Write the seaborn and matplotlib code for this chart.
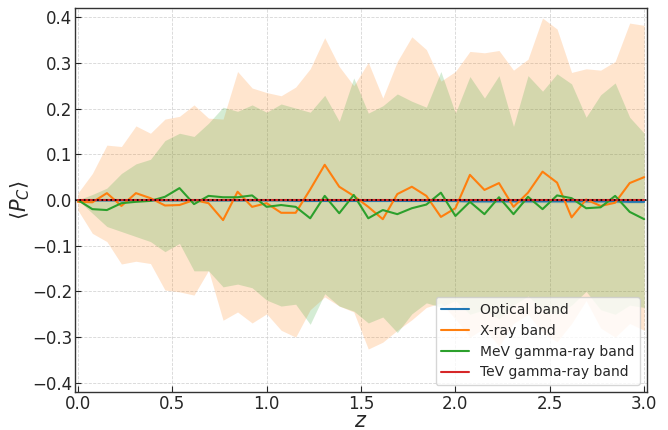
import numpy as np
import pandas as pd
import matplotlib
matplotlib.use("Agg")
import matplotlib.pyplot as plt
import seaborn as sns

# ---- data (40 redshift samples from 0 to 3) ----
z = np.linspace(0, 3, 40)

xray_mean = [-0.004, -0.005, 0.015, -0.013, 0.015, 0.004, -0.012, -0.011, 0.000, -0.007,
             -0.044, 0.018, -0.015, -0.007, -0.028, -0.028, 0.023, 0.077, 0.029, 0.009,
             -0.015, -0.042, 0.013, 0.029, 0.009, -0.037, -0.018, 0.055, 0.022, 0.037,
             -0.015, 0.016, 0.062, 0.038, -0.038, 0.001, -0.013, -0.006, 0.037, 0.050]
xray_upper = [0.015, 0.058, 0.120, 0.117, 0.162, 0.146, 0.177, 0.183, 0.208, 0.179,
              0.177, 0.281, 0.245, 0.235, 0.228, 0.247, 0.287, 0.355, 0.292, 0.250,
              0.301, 0.223, 0.303, 0.357, 0.329, 0.260, 0.281, 0.325, 0.322, 0.327,
              0.284, 0.308, 0.398, 0.374, 0.279, 0.287, 0.284, 0.303, 0.387, 0.382]
xray_lower = [-0.022, -0.073, -0.091, -0.140, -0.134, -0.139, -0.197, -0.201, -0.208, -0.154,
              -0.263, -0.245, -0.269, -0.249, -0.285, -0.300, -0.240, -0.212, -0.232, -0.245,
              -0.326, -0.311, -0.285, -0.262, -0.235, -0.225, -0.260, -0.300, -0.280, -0.320,
              -0.270, -0.250, -0.290, -0.310, -0.270, -0.220, -0.280, -0.300, -0.270, -0.285]

mev_mean = [0.000, -0.020, -0.022, -0.007, -0.004, -0.002, 0.007, 0.026, -0.009, 0.009,
            0.006, 0.006, 0.010, -0.015, -0.011, -0.015, -0.040, 0.009, -0.029, 0.011,
            -0.040, -0.022, -0.031, -0.018, -0.010, 0.016, -0.035, -0.004, -0.031, 0.006,
            -0.031, 0.007, -0.020, 0.010, 0.004, -0.018, -0.016, 0.009, -0.026, -0.042]
mev_upper = [0.000, 0.012, 0.026, 0.058, 0.079, 0.089, 0.130, 0.146, 0.139, 0.168,
             0.203, 0.194, 0.208, 0.192, 0.210, 0.201, 0.192, 0.229, 0.172, 0.267,
             0.190, 0.206, 0.232, 0.216, 0.203, 0.281, 0.190, 0.270, 0.223, 0.272,
             0.161, 0.272, 0.238, 0.276, 0.254, 0.181, 0.230, 0.256, 0.181, 0.146]
mev_lower = [0.000, -0.029, -0.058, -0.069, -0.080, -0.091, -0.113, -0.095, -0.155, -0.155,
             -0.190, -0.184, -0.192, -0.219, -0.232, -0.228, -0.272, -0.205, -0.232, -0.243,
             -0.269, -0.256, -0.290, -0.249, -0.225, -0.234, -0.220, -0.250, -0.240, -0.260,
             -0.230, -0.210, -0.240, -0.250, -0.230, -0.200, -0.240, -0.250, -0.230, -0.235]

optical_mean = [0.000, -0.001, -0.001, -0.001, -0.001, -0.001, -0.001, -0.001, -0.001, -0.001,
                -0.001, -0.001, -0.001, -0.001, -0.001, -0.002, -0.002, -0.002, -0.002, -0.002,
                -0.002, -0.002, -0.002, -0.002, -0.002, -0.002, -0.002, -0.003, -0.003, -0.003,
                -0.003, -0.003, -0.003, -0.003, -0.003, -0.003, -0.003, -0.003, -0.004, -0.004]
optical_spread = [0.000, 0.001, 0.001, 0.001, 0.001, 0.001, 0.001, 0.001, 0.002, 0.002,
                  0.002, 0.002, 0.002, 0.002, 0.002, 0.002, 0.002, 0.002, 0.002, 0.002,
                  0.002, 0.002, 0.002, 0.002, 0.002, 0.002, 0.003, 0.003, 0.003, 0.003,
                  0.003, 0.003, 0.003, 0.003, 0.003, 0.003, 0.003, 0.003, 0.003, 0.003]
tev_mean = [0.0] * 40
tev_spread = [0.0005] * 40

band_names = ["Optical band", "X-ray band", "MeV gamma-ray band", "TeV gamma-ray band"]
band_colors = ["#1f77b4", "#ff7f0e", "#2ca02c", "#d62728"]

x_ticks = [0.0, 0.5, 1.0, 1.5, 2.0, 2.5, 3.0]
y_ticks = [-0.4, -0.3, -0.2, -0.1, 0.0, 0.1, 0.2, 0.3, 0.4]

# ---- build long table ----
means = [optical_mean, xray_mean, mev_mean, tev_mean]
lowers = [np.array(optical_mean) - np.array(optical_spread), xray_lower, mev_lower,
          np.array(tev_mean) - np.array(tev_spread)]
uppers = [np.array(optical_mean) + np.array(optical_spread), xray_upper, mev_upper,
          np.array(tev_mean) + np.array(tev_spread)]

df = pd.concat([pd.DataFrame({"z": z, "P": m, "band": n}) for m, n in zip(means, band_names)],
               ignore_index=True)

sns.set_style("white")
plt.rcParams["font.family"] = ["DejaVu Sans"]

fig = plt.figure(figsize=(6.68, 4.30), dpi=100)
ax = fig.add_axes([0.1123, 0.0884, 0.8563, 0.893])

for lo, up, c in zip(lowers, uppers, band_colors):
    ax.fill_between(z, lo, up, color=c, alpha=0.2, linewidth=0)

sns.lineplot(data=df, x="z", y="P", hue="band", hue_order=band_names,
             palette=band_colors, linewidth=1.5, ax=ax, estimator=None, errorbar=None)

ax.axhline(0, color="black", linestyle=":", linewidth=1.2, zorder=5)

ax.set_xlim(-0.015, 3.015)
ax.set_ylim(-0.42, 0.42)
ax.set_xticks(x_ticks)
ax.set_yticks(y_ticks)
ax.tick_params(axis="both", direction="in", labelsize=12, length=4, width=0.8,
               left=True, bottom=True, pad=2)
ax.set_xlabel(r"$z$", fontsize=15, labelpad=-1)
ax.set_ylabel(r"$\langle P_C \rangle$", fontsize=15, labelpad=0)
ax.grid(True, linestyle="--", color="#cccccc", linewidth=0.6, alpha=0.8)
for s in ax.spines.values():
    s.set_color("#333333")
    s.set_linewidth(1.0)

leg = ax.legend(loc="lower right", fontsize=10, frameon=True)
leg.set_title(None)

fig.savefig("out.png", dpi=100)
